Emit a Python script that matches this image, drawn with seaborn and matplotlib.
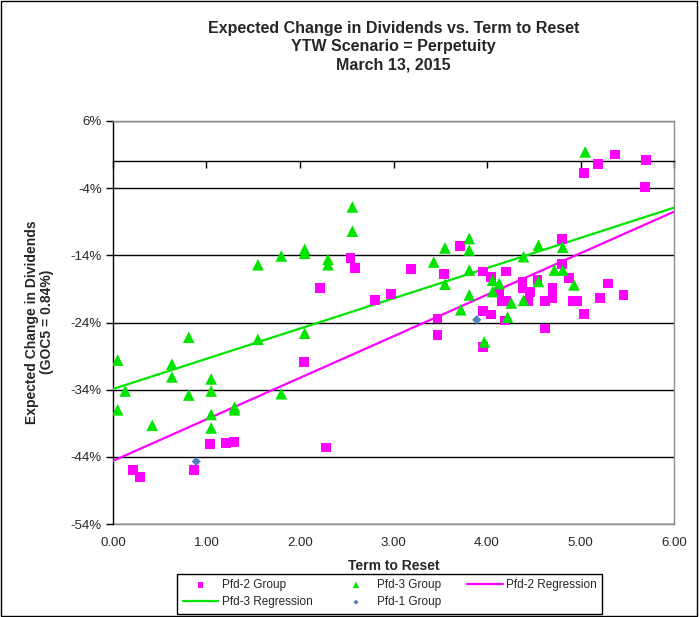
import matplotlib
matplotlib.use("Agg")
import matplotlib.pyplot as plt
import seaborn as sns
import pandas as pd
from matplotlib.patches import Rectangle

# Pfd-2 Group: term to reset (years) and expected change in dividends (%)
pfd2_term = [0.21, 0.29, 0.87, 1.04, 1.21, 1.29, 2.04, 2.21, 2.28, 2.54, 2.59,
             2.80, 2.97, 3.19, 3.47, 3.47, 3.54, 3.71, 3.96, 3.96, 3.96, 4.04,
             4.04, 4.13, 4.16, 4.19, 4.20, 4.20, 4.38, 4.38, 4.44, 4.46, 4.54,
             4.62, 4.62, 4.70, 4.70, 4.80, 4.80, 4.88, 4.92, 4.96, 5.04, 5.04,
             5.19, 5.21, 5.29, 5.37, 5.46, 5.69, 5.70]
pfd2_change = [-46.0, -47.0, -45.9, -42.1, -41.9, -41.8, -29.9, -18.9, -42.6,
               -14.4, -15.9, -20.7, -19.7, -16.0, -23.4, -25.9, -16.8, -12.6,
               -16.4, -22.3, -27.7, -17.2, -22.8, -19.4, -20.8, -23.7, -16.4,
               -20.8, -17.9, -18.9, -20.8, -19.4, -17.7, -20.8, -24.9, -18.9,
               -20.4, -11.6, -15.3, -17.4, -20.8, -20.8, -22.7, -1.8, -0.4,
               -20.4, -18.2, 1.0, -19.9, -3.8, 0.2]

# Pfd-3 Group
pfd3_term = [0.05, 0.13, 0.05, 0.42, 0.63, 0.63, 0.81, 0.81, 1.05, 1.05, 1.05,
             1.05, 1.30, 1.30, 1.55, 1.80, 2.05, 1.55, 1.80, 2.05, 2.05, 2.30,
             2.30, 2.56, 2.56, 3.43, 3.55, 3.55, 3.72, 3.81, 3.81, 3.81, 3.81,
             3.97, 4.06, 4.06, 4.13, 4.22, 4.26, 4.39, 4.39, 4.55, 4.55, 4.72,
             4.81, 4.81, 4.93, 5.05]
pfd3_change = [-29.6, -34.2, -37.0, -39.3, -30.2, -32.1, -26.2, -34.8, -32.4,
               -34.2, -37.7, -39.7, -36.6, -37.0, -26.5, -34.6, -25.6, -15.4,
               -14.1, -13.1, -13.7, -14.6, -15.4, -6.8, -10.4, -15.0, -12.9,
               -18.3, -22.1, -11.5, -13.2, -16.2, -19.9, -26.9, -17.7, -19.4,
               -18.2, -23.2, -21.1, -14.2, -20.7, -12.5, -17.9, -16.2, -12.8,
               -16.2, -18.4, 1.4]

# Pfd-1 Group
pfd1_term = [0.89, 3.89]
pfd1_change = [-44.7, -23.6]

# Regression lines (end points)
reg_term = [0.0, 6.0]
pfd2_reg = [-44.6, -7.5]
pfd3_reg = [-33.9, -6.9]

x_ticks = [0, 1, 2, 3, 4, 5, 6]
y_ticks = [6, -4, -14, -24, -34, -44, -54]

MAGENTA = "#FF00FF"
GREEN = "#00E400"
BLUE = "#4F81BD"

sns.set_style("white")
plt.rcParams["font.family"] = ["Liberation Sans", "DejaVu Sans"]

fig = plt.figure(figsize=(7.0, 6.17), dpi=100)
ax = fig.add_axes([0.1614, 0.1507, 0.8015, 0.6532])

df2 = pd.DataFrame({"term": pfd2_term, "change": pfd2_change})
df3 = pd.DataFrame({"term": pfd3_term, "change": pfd3_change})
df1 = pd.DataFrame({"term": pfd1_term, "change": pfd1_change})

sns.lineplot(x=reg_term, y=pfd2_reg, ax=ax, color=MAGENTA, lw=1.6,
             label="Pfd-2 Regression", zorder=3)
sns.lineplot(x=reg_term, y=pfd3_reg, ax=ax, color=GREEN, lw=1.6,
             label="Pfd-3 Regression", zorder=3)
sns.scatterplot(data=df2, x="term", y="change", ax=ax, marker="s", s=50,
                color=MAGENTA, edgecolor="none", label="Pfd-2 Group", zorder=4)
sns.scatterplot(data=df3, x="term", y="change", ax=ax, marker="^", s=70,
                color=GREEN, edgecolor="none", label="Pfd-3 Group", zorder=4)
sns.scatterplot(data=df1, x="term", y="change", ax=ax, marker="D", s=22,
                color=BLUE, edgecolor="none", label="Pfd-1 Group", zorder=5)

ax.set_xlim(0, 6)
ax.set_ylim(-54, 6)
ax.set_xlabel("")
ax.set_ylabel("")

# horizontal grid at major y ticks
ax.set_axisbelow(True)
ax.yaxis.grid(True, color="black", lw=1)
ax.xaxis.grid(False)

# y axis
ax.set_yticks(y_ticks)
ax.set_yticklabels([f"{v}%" for v in y_ticks], fontsize=9.5)
ax.tick_params(axis="y", direction="out", length=5, width=1, color="black", pad=3, left=True)
ax.spines["left"].set_color("black")
ax.spines["left"].set_linewidth(1)
for side in ["top", "right"]:
    ax.spines[side].set_color("#8C8C8C")
    ax.spines[side].set_linewidth(1)

# x axis line crosses at 0%, labels stay at the bottom
ax.spines["bottom"].set_position(("data", 0))
ax.spines["bottom"].set_color("black")
ax.spines["bottom"].set_linewidth(1)
ax.set_xticks(x_ticks)
ax.tick_params(axis="x", direction="out", length=5, width=1, color="black",
               labelbottom=False, bottom=True)

sec = ax.secondary_xaxis("bottom")
sec.set_xticks(x_ticks)
sec.set_xticklabels([f"{v:.2f}" for v in x_ticks], fontsize=9.5)
sec.tick_params(length=0, pad=9)
sec.spines["bottom"].set_color("#8C8C8C")
sec.spines["bottom"].set_linewidth(1)

# titles
fig.text(0.562, 0.954, "Expected Change in Dividends vs. Term to Reset",
         ha="center", va="center", fontsize=11.5, fontweight="bold")
fig.text(0.562, 0.924, "YTW Scenario = Perpetuity",
         ha="center", va="center", fontsize=11.5, fontweight="bold")
fig.text(0.562, 0.894, "March 13, 2015",
         ha="center", va="center", fontsize=11.5, fontweight="bold")
fig.text(0.057, 0.478, "Expected Change in Dividends\n(GOC5 = 0.84%)",
         ha="center", va="center", rotation=90, fontsize=10, fontweight="bold",
         linespacing=1.1)
fig.text(0.562, 0.083, "Term to Reset", ha="center", va="center",
         fontsize=10, fontweight="bold")

# legend (row-major order like the original)
if ax.get_legend() is not None:
    ax.get_legend().remove()
handles, labels = ax.get_legend_handles_labels()
lookup = dict(zip(labels, handles))
order = ["Pfd-2 Group", "Pfd-3 Regression", "Pfd-3 Group", "Pfd-1 Group",
         "Pfd-2 Regression"]
leg = fig.legend([lookup[k] for k in order], order, ncol=3,
                 loc="lower center", bbox_to_anchor=(0.557, -0.004),
                 fontsize=8.5, frameon=True, fancybox=False, edgecolor="black",
                 framealpha=1, markerscale=0.55, handlelength=3.0,
                 columnspacing=2.2, borderpad=0.45, labelspacing=0.45,
                 handletextpad=0.3)
leg.get_frame().set_linewidth(1)

# outer chart border
fig.patches.append(Rectangle((0.002, 0.002), 0.994, 0.996, transform=fig.transFigure,
                             fill=False, edgecolor="black", lw=1))

fig.savefig("out.png", dpi=100)
